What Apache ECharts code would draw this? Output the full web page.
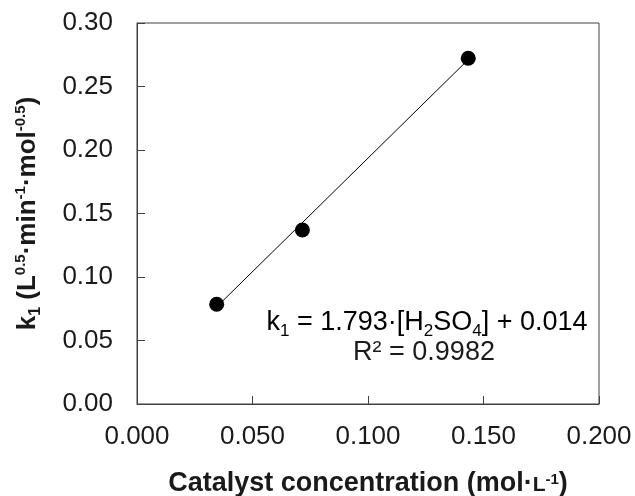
<!DOCTYPE html>
<html>
<head>
<meta charset="utf-8">
<script src="https://cdn.jsdelivr.net/npm/echarts@6/dist/echarts.min.js"></script>
<style>
html,body{margin:0;padding:0;background:#fff;}
#chart{width:635px;height:496px;}
</style>
</head>
<body>
<div id="chart"></div>
<script>
// Data
const catalystConc = [0.0345, 0.0716, 0.1434];
const k1Values = [0.0785, 0.1370, 0.2722];
const trendX = [0.0345, 0.1434];
const trendY = [0.0765, 0.2712];
const xTickLabels = ['0.000', '0.050', '0.100', '0.150', '0.200'];
const yTickLabels = ['0.00', '0.05', '0.10', '0.15', '0.20', '0.25', '0.30'];
const equationLine1 = ['k', '1', ' = 1.793·[H', '2', 'SO', '4', '] + 0.014'];
const equationLine2 = 'R² = 0.9982';

const FONT = '"Liberation Sans", Arial, sans-serif';
const TXT = '#1a1a1a';

const chart = echarts.init(document.getElementById('chart'), null, {renderer: 'canvas'});

const points = catalystConc.map((x, i) => [x, k1Values[i]]);
const trend = trendX.map((x, i) => [x, trendY[i]]);

const nameBase = {fontFamily: FONT, fontWeight: 'bold', color: TXT};

chart.setOption({
  animation: false,
  backgroundColor: '#fff',
  grid: {left: 137, top: 23, right: 36, bottom: 92, show: true, borderColor: '#404040', borderWidth: 1,
         containLabel: false, outerBoundsMode: 'none'},
  xAxis: {
    type: 'value', min: 0, max: 0.2, interval: 0.05,
    name: '{a|Catalyst concentration (mol·}{b|L}{s|-1}{a|)}',
    nameLocation: 'middle', nameGap: 65,
    nameTextStyle: {
      rich: {
        a: Object.assign({fontSize: 27, lineHeight: 28, verticalAlign: 'bottom'}, nameBase),
        b: Object.assign({fontSize: 21, lineHeight: 28, verticalAlign: 'bottom', padding: [0, 0, 1, 0]}, nameBase),
        s: Object.assign({fontSize: 15, lineHeight: 28, verticalAlign: 'top', padding: [3, 0, 0, 0]}, nameBase)
      }
    },
    axisLine: {lineStyle: {color: '#404040', width: 1}},
    axisTick: {inside: true, length: 8, lineStyle: {color: '#404040'}},
    splitLine: {show: false},
    axisLabel: {
      fontFamily: FONT, fontSize: 26, color: TXT, margin: 20,
      formatter: (v) => xTickLabels[Math.round(v / 0.05)]
    }
  },
  yAxis: {
    type: 'value', min: 0, max: 0.3, interval: 0.05,
    name: '{a|k}{sub|1}{a| (L}{sup|0.5}{a|·min}{sup|-1}{a|·mol}{sup|-0.5}{a|)}',
    nameLocation: 'middle', nameRotate: 90, nameGap: 96,
    nameTextStyle: {
      rich: {
        a: Object.assign({fontSize: 26, lineHeight: 30, verticalAlign: 'bottom'}, nameBase),
        sub: Object.assign({fontSize: 16, lineHeight: 30, verticalAlign: 'bottom', padding: [0, 0, -3, 0]}, nameBase),
        sup: Object.assign({fontSize: 15, lineHeight: 30, verticalAlign: 'top', padding: [2, 0, 0, 0]}, nameBase)
      }
    },
    axisLine: {lineStyle: {color: '#404040', width: 1}},
    axisTick: {inside: true, length: 8, lineStyle: {color: '#404040'}},
    splitLine: {show: false},
    axisLabel: {
      fontFamily: FONT, fontSize: 26, color: TXT, margin: 24,
      formatter: (v) => yTickLabels[Math.round(v / 0.05)]
    }
  },
  series: [
    {
      type: 'line', data: trend, symbol: 'none', silent: true,
      lineStyle: {color: '#000', width: 1}, z: 2
    },
    {
      type: 'scatter', data: points, symbol: 'circle', symbolSize: 15,
      itemStyle: {color: '#000', opacity: 1}, z: 3
    }
  ],
  graphic: [
    {
      type: 'text', x: 427, y: 321,
      style: {
        text: '{a|' + equationLine1[0] + '}{s|' + equationLine1[1] + '}{a|' + equationLine1[2] + '}{s|' + equationLine1[3] + '}{a|' + equationLine1[4] + '}{s|' + equationLine1[5] + '}{a|' + equationLine1[6] + '}',
        align: 'center', verticalAlign: 'middle',
        rich: {
          a: {fontFamily: FONT, fontSize: 27, color: TXT, lineHeight: 30, verticalAlign: 'bottom'},
          s: {fontFamily: FONT, fontSize: 17, color: TXT, lineHeight: 30, verticalAlign: 'bottom', padding: [0, 0, -4, 0]}
        }
      }
    },
    {
      type: 'text', x: 424, y: 353,
      style: {
        text: equationLine2, align: 'center', verticalAlign: 'middle',
        fontFamily: FONT, fontSize: 27, fill: TXT
      }
    }
  ]
});
</script>
</body>
</html>
